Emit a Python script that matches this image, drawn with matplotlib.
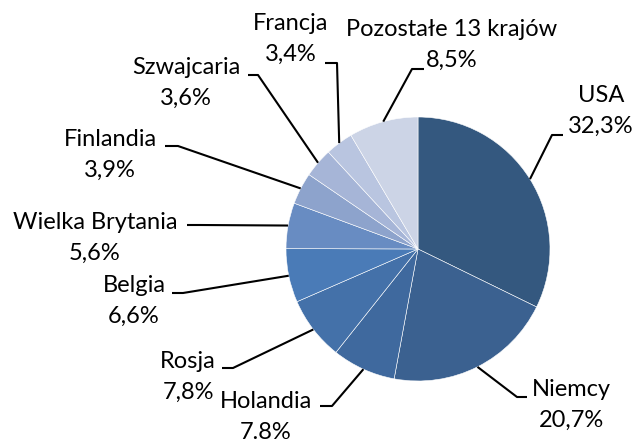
import numpy as np
import matplotlib

matplotlib.use("Agg")
from matplotlib import pyplot as plt

W, H = 636, 443

countries = ["USA", "Niemcy", "Holandia", "Rosja", "Belgia", "Wielka Brytania",
             "Finlandia", "Szwajcaria", "Francja", "Pozostałe 13 krajów"]
shares = [32.3, 20.7, 7.8, 7.8, 6.6, 5.6, 3.9, 3.6, 3.4, 8.5]
share_labels = ["32,3%", "20,7%", "7.8%", "7,8%", "6,6%", "5,6%",
                "3,9%", "3,6%", "3,4%", "8,5%"]
colors = ["#34587F", "#3B6190", "#3F699E", "#4471A9", "#4A7BB7", "#688CC2",
          "#8DA3CC", "#A6B5D7", "#B9C5E0", "#CCD4E6"]

# layout in pixel coords (y down): text block center, leader elbow, leader end
text_pos = [(601, 111), (571, 405), (266, 417), (188, 377), (134, 301),
            (95, 238), (110, 155), (186, 83), (291, 39), (452, 45)]
elbows = [(552, 135), (517, 397), (332, 406), (233, 368), (183, 293),
          (200, 225), (178, 146), (258, 75), (337, 63), (412, 69)]
ends = [(563, 135), (527, 397), (320, 406), (222, 368), (172, 293),
        (187, 225), (165, 146), (248, 75), (325, 63), (424, 69)]

center = (418, H - 249)
radius = 132

plt.rcParams["font.family"] = ["Lato", "DejaVu Sans"]
fig = plt.figure(figsize=(W / 100, H / 100), dpi=100)
ax = fig.add_axes([0, 0, 1, 1])
ax.set_xlim(0, W)
ax.set_ylim(0, H)
ax.set_aspect("equal")
ax.axis("off")

wedges, _ = ax.pie(shares, colors=colors, startangle=90, counterclock=False,
                   center=center, radius=radius,
                   wedgeprops={"edgecolor": "white", "linewidth": 0.4})
ax.set_xlim(0, W)
ax.set_ylim(0, H)

for wedge, name, lab, tp, el, en in zip(wedges, countries, share_labels, text_pos, elbows, ends):
    ang = np.deg2rad((wedge.theta1 + wedge.theta2) / 2)
    px = center[0] + radius * np.cos(ang)
    py = center[1] + radius * np.sin(ang)
    ax.plot([px, el[0], en[0]], [py, H - el[1], H - en[1]], color="black", lw=1.5,
            solid_capstyle="butt")
    ax.text(tp[0], H - tp[1], f"{name}\n{lab}", ha="center", va="center",
            multialignment="center", fontsize=17, linespacing=1.6, color="black")

fig.savefig("out.png", dpi=100)
